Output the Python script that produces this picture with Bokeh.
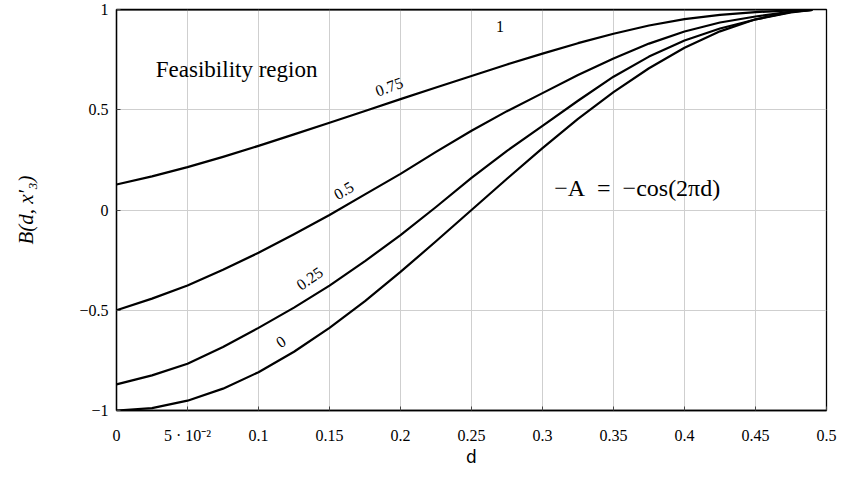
from bokeh.plotting import figure
from bokeh.models import Range1d, FixedTicker, ColumnDataSource
from bokeh.core.properties import value
from bokeh.embed import file_html
from bokeh.resources import INLINE
import math

# ---- data ----
d = [0.0, 0.025, 0.05, 0.075, 0.1, 0.125, 0.15, 0.175, 0.2, 0.225, 0.25,
     0.275, 0.3, 0.325, 0.35, 0.375, 0.4, 0.425, 0.45, 0.475, 0.49]
b_t0 = [-1.0, -0.988, -0.951, -0.891, -0.809, -0.707, -0.588, -0.454, -0.309, -0.156, 0.0,
        0.156, 0.309, 0.454, 0.588, 0.707, 0.809, 0.891, 0.951, 0.988, 0.998]
b_t025 = [-0.87, -0.825, -0.767, -0.683, -0.588, -0.487, -0.377, -0.255, -0.125, 0.015, 0.16,
          0.295, 0.42, 0.545, 0.665, 0.765, 0.845, 0.905, 0.95, 0.985, 0.998]
b_t05 = [-0.5, -0.442, -0.377, -0.298, -0.213, -0.121, -0.025, 0.078, 0.18, 0.29, 0.395,
         0.493, 0.583, 0.673, 0.756, 0.83, 0.89, 0.935, 0.965, 0.99, 0.998]
b_t075 = [0.127, 0.168, 0.214, 0.265, 0.32, 0.377, 0.435, 0.494, 0.553, 0.611, 0.668,
          0.726, 0.78, 0.832, 0.879, 0.92, 0.952, 0.973, 0.987, 0.996, 0.999]
b_t1 = [1.0, 1.0, 1.0, 1.0, 1.0, 1.0, 1.0, 1.0, 1.0, 1.0, 1.0,
        1.0, 1.0, 1.0, 1.0, 1.0, 1.0, 1.0, 1.0, 1.0, 1.0]

curve_names = ["0", "0.25", "0.5", "0.75", "1"]

x_ticks = [0.0, 0.05, 0.1, 0.15, 0.2, 0.25, 0.3, 0.35, 0.4, 0.45, 0.5]
x_tick_labels = ["0", "5 · 10⁻²", "0.1", "0.15", "0.2", "0.25", "0.3", "0.35", "0.4", "0.45", "0.5"]
y_ticks = [-1.0, -0.5, 0.0, 0.5, 1.0]
y_tick_labels = ["−1", "−0.5", "0", "0.5", "1"]

# label placement (annotations)
lab_x = [0.1157, 0.136, 0.160, 0.192, 0.27]
lab_y = [-0.657, -0.341, 0.097, 0.615, 0.915]
lab_angle_deg = [33, 35, 31, 20, 0]

SERIF = "Liberation Serif"

p = figure(width=843, height=486, output_backend="svg", toolbar_location=None,
           x_range=Range1d(0, 0.5), y_range=Range1d(-1, 1),
           min_border_left=116, min_border_right=17, min_border_top=9, min_border_bottom=76)
p.background_fill_color = "white"
p.border_fill_color = "white"
p.outline_line_color = "black"
p.outline_line_width = 1.3

for ys in [b_t0, b_t025, b_t05, b_t075, b_t1]:
    p.line(d, ys, line_color="black", line_width=2.2, line_join="round")

# axes
p.xaxis.ticker = FixedTicker(ticks=x_ticks)
p.yaxis.ticker = FixedTicker(ticks=y_ticks)
p.xaxis.major_label_overrides = {t: l for t, l in zip(x_ticks, x_tick_labels)}
p.yaxis.major_label_overrides = {t: l for t, l in zip(y_ticks, y_tick_labels)}
p.xaxis.minor_tick_line_color = None
p.yaxis.minor_tick_line_color = None
for ax in [p.xaxis[0], p.yaxis[0]]:
    ax.axis_line_color = "black"
    ax.axis_line_width = 1.3
    ax.major_tick_in = 4
    ax.major_tick_out = 0
    ax.major_tick_line_color = "#444444"
    ax.major_label_text_font = SERIF
    ax.major_label_text_font_size = "16px"
    ax.major_label_text_color = "black"
    ax.axis_label_text_color = "black"
    ax.axis_label_text_font_style = "normal"

p.xaxis.major_label_standoff = 16
p.xaxis.axis_label = "d"
p.xaxis.axis_label_text_font = "DejaVu Sans"
p.xaxis.axis_label_text_font_size = "17px"
p.xaxis.axis_label_standoff = 0

p.yaxis.major_label_standoff = 8
p.yaxis.axis_label = "B(d, x′₃)"
p.yaxis.axis_label_text_font = SERIF
p.yaxis.axis_label_text_font_style = "italic"
p.yaxis.axis_label_text_font_size = "21px"
p.yaxis.axis_label_standoff = 38

p.xgrid.grid_line_color = "#cfcfcf"
p.ygrid.grid_line_color = "#cfcfcf"
p.xgrid.grid_line_width = 1
p.ygrid.grid_line_width = 1

# curve labels
src = ColumnDataSource(dict(x=lab_x, y=lab_y, t=curve_names,
                            a=[math.radians(a) for a in lab_angle_deg]))
p.text(x="x", y="y", text="t", angle="a", source=src, text_font=value(SERIF),
       text_font_size="16px", text_align="center", text_baseline="middle", text_color="black")

p.text(x=[0.0846], y=[0.70], text=["Feasibility region"], text_font=value(SERIF),
       text_font_size="23px", text_align="center", text_baseline="middle", text_color="black")
p.text(x=[0.3667], y=[0.111], text=["−A\u2002=\u2002−cos(2πd)"], text_font=value(SERIF),
       text_font_size="24px", text_align="center", text_baseline="middle", text_color="black")

open("out.html", "w").write(file_html(p, INLINE))
